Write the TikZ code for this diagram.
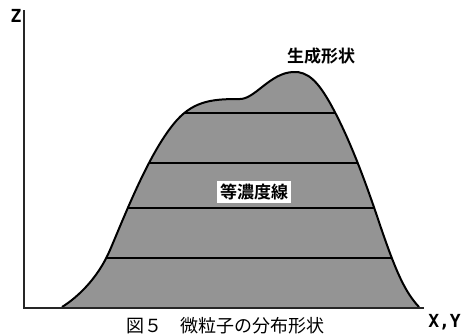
\documentclass[tikz,border=0pt]{standalone}
\usepackage{fontspec}
\newfontfamily\cjk{Noto Sans CJK JP}
\newfontfamily\cjkb{Noto Sans CJK JP Bold}
\newfontfamily\monof{DejaVu Sans Mono}
\begin{document}
\begin{tikzpicture}[x=1pt,y=-1pt,
  axis/.style={line width=1.8pt,black!85},
  outline/.style={line width=2pt,black},
  contour/.style={line width=1.6pt,black},
  lbl/.style={inner sep=1pt,font=\cjkb\fontsize{17}{17}\selectfont},
  axl/.style={inner sep=0pt,font=\monof\bfseries\fontsize{18}{18}\selectfont}]
\useasboundingbox (0,0) rectangle (462,335);
\def\hill{(62,307) .. controls (78,297) and (98,278) .. (110,250)
  .. controls (125,215) and (150,150) .. (177,120)
  .. controls (195,100) and (215,99) .. (240,99)
  .. controls (255,99) and (270,73) .. (293,72)
  .. controls (308,71) and (318,82) .. (330,103)
  .. controls (345,130) and (360,165) .. (380,225)
  .. controls (396,272) and (405,292) .. (419,307)}
\fill[black!42] \hill -- cycle;
\begin{scope}
  \clip \hill -- cycle;
  \foreach \yy in {113,163,208,258} \draw[contour] (0,\yy) -- (462,\yy);
\end{scope}
\draw[outline] \hill;
\coordinate (o) at (24,308);
\coordinate (ztop) at (24,10);
\coordinate (xend) at (424,308);
\draw[axis] (ztop) -- (o) -- (xend);
\node[axl] (z) at (16,16) {Z};
\node[axl,anchor=east] (xy) at (461,322) {X,Y};
\node[lbl] (top) at (321,56) {生成形状};
\node[lbl,fill=white,inner sep=3pt] (iso) at (254,192) {等濃度線};
\node[anchor=west,inner sep=0pt,font=\cjk\fontsize{18}{18}\selectfont] (cap) at (126,326) {図５　微粒子の分布形状};
\end{tikzpicture}
\end{document}
